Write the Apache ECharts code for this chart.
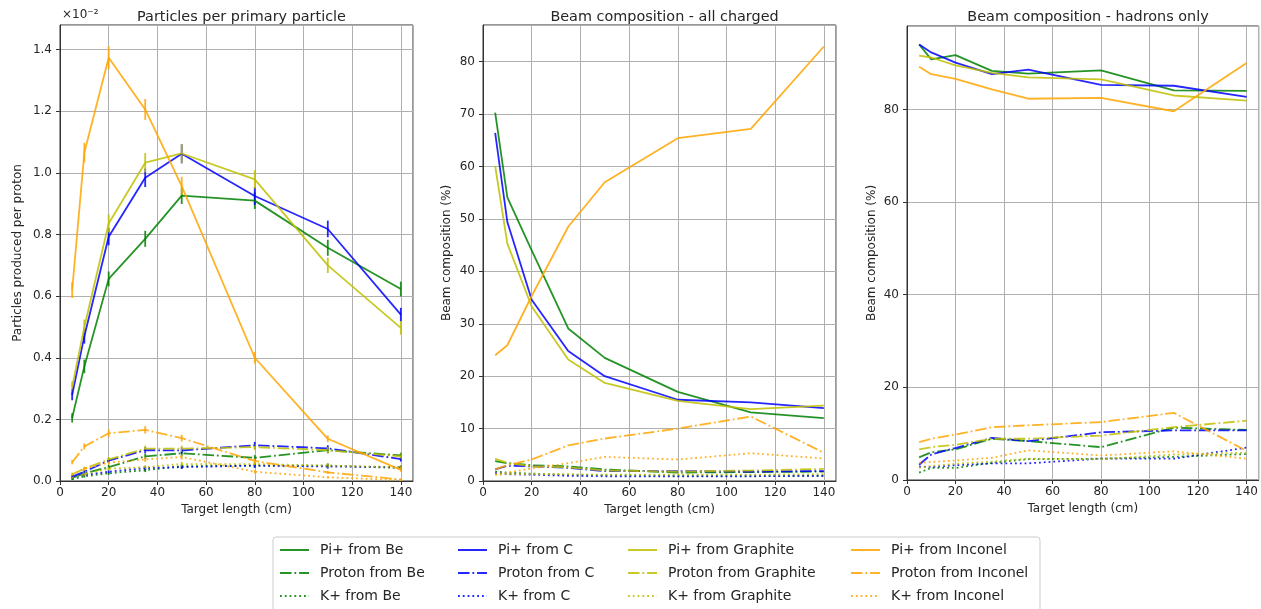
<!DOCTYPE html>
<html><head><meta charset="utf-8">
<script src="https://cdn.jsdelivr.net/npm/echarts@6/dist/echarts.min.js"></script>
<style>html,body{margin:0;padding:0;background:#fff}#c{width:1261px;height:609px}</style>
</head><body><div id="c"></div>
<script>
// Target lengths (cm)
const xs = [5, 10, 20, 35, 50, 80, 110, 140];

// Panel 1: particles per primary particle (x1e-2)
const yPiBe = [0.205, 0.372, 0.656, 0.786, 0.926, 0.910, 0.757, 0.623];
const yPrBe = [0.010, 0.025, 0.045, 0.080, 0.090, 0.075, 0.100, 0.083];
const yKBe  = [0.006, 0.015, 0.025, 0.035, 0.048, 0.050, 0.050, 0.042];
const yPiC  = [0.280, 0.470, 0.793, 0.984, 1.062, 0.925, 0.818, 0.540];
const yPrC  = [0.014, 0.030, 0.066, 0.100, 0.099, 0.116, 0.106, 0.071];
const yKC   = [0.010, 0.020, 0.030, 0.042, 0.045, 0.050, 0.047, 0.045];
const yPiGr = [0.305, 0.500, 0.836, 1.033, 1.063, 0.979, 0.700, 0.497];
const yPrGr = [0.022, 0.040, 0.070, 0.105, 0.105, 0.110, 0.100, 0.080];
const yKGr  = [0.010, 0.022, 0.040, 0.045, 0.055, 0.055, 0.050, 0.045];
const yPiIn = [0.620, 1.066, 1.374, 1.206, 0.957, 0.400, 0.137, 0.036];
const yPrIn = [0.061, 0.112, 0.155, 0.166, 0.139, 0.065, 0.028, 0.005];
const yKIn  = [0.020, 0.040, 0.060, 0.070, 0.078, 0.030, 0.012, 0.003];

// Panel 1 error bars (half-widths)
const ePiBe = [0.015, 0.022, 0.024, 0.026, 0.027, 0.027, 0.026, 0.024];
const ePrBe = [0.004, 0.006, 0.007, 0.009, 0.010, 0.009, 0.010, 0.009];
const eKBe  = [0.003, 0.004, 0.005, 0.006, 0.007, 0.007, 0.007, 0.007];
const ePiC  = [0.018, 0.024, 0.028, 0.030, 0.031, 0.029, 0.027, 0.022];
const ePrC  = [0.004, 0.006, 0.008, 0.010, 0.010, 0.011, 0.010, 0.008];
const eKC   = [0.003, 0.004, 0.005, 0.006, 0.006, 0.007, 0.007, 0.007];
const ePiGr = [0.018, 0.024, 0.029, 0.031, 0.031, 0.030, 0.025, 0.022];
const ePrGr = [0.005, 0.006, 0.008, 0.010, 0.010, 0.010, 0.010, 0.009];
const eKGr  = [0.003, 0.005, 0.006, 0.006, 0.007, 0.007, 0.007, 0.007];
const ePiIn = [0.026, 0.032, 0.037, 0.034, 0.030, 0.019, 0.011, 0.006];
const ePrIn = [0.007, 0.010, 0.012, 0.012, 0.011, 0.008, 0.005, 0.002];
const eKIn  = [0.004, 0.006, 0.007, 0.008, 0.008, 0.005, 0.003, 0.002];

// Panel 2: beam composition - all charged (%)
const cPiBe = [70.3, 54.1, 44.0, 29.1, 23.5, 17.0, 13.1, 12.0];
const cPrBe = [3.8, 3.4, 3.0, 2.8, 2.2, 1.6, 1.7, 1.8];
const cKBe  = [1.8, 1.6, 1.4, 1.2, 1.1, 1.0, 1.0, 1.0];
const cPiC  = [66.4, 49.4, 34.6, 24.8, 20.0, 15.5, 15.0, 13.9];
const cPrC  = [2.2, 2.9, 2.8, 2.5, 1.9, 1.9, 1.8, 1.9];
const cKC   = [1.5, 1.3, 1.2, 1.0, 0.9, 0.9, 0.9, 1.0];
const cPiGr = [60.1, 45.3, 33.3, 23.2, 18.7, 15.3, 13.7, 14.4];
const cPrGr = [4.2, 3.5, 2.8, 2.6, 2.0, 1.8, 2.0, 2.3];
const cKGr  = [1.2, 1.3, 1.3, 1.3, 1.2, 1.2, 1.2, 1.3];
const cPiIn = [24.0, 25.9, 35.3, 48.5, 57.0, 65.4, 67.2, 82.9];
const cPrIn = [2.2, 3.0, 4.1, 6.8, 8.1, 10.0, 12.3, 5.4];
const cKIn  = [1.2, 1.6, 2.4, 3.4, 4.6, 4.1, 5.3, 4.3];

// Panel 3: beam composition - hadrons only (%)
const hPiBe = [94.0, 90.8, 91.7, 88.3, 87.7, 88.4, 84.1, 84.0];
const hPrBe = [4.9, 6.0, 6.6, 8.9, 8.4, 7.1, 11.3, 10.8];
const hKBe  = [1.6, 2.6, 2.6, 3.7, 4.5, 4.6, 5.0, 5.6];
const hPiC  = [94.0, 92.3, 90.1, 87.6, 88.6, 85.3, 85.1, 82.7];
const hPrC  = [3.3, 5.5, 6.9, 9.1, 8.4, 10.3, 10.7, 10.7];
const hKC   = [2.9, 2.8, 3.2, 3.6, 3.6, 4.6, 4.6, 7.0];
const hPiGr = [91.6, 91.2, 89.5, 87.9, 86.9, 86.5, 83.0, 81.9];
const hPrGr = [6.6, 7.1, 7.6, 8.9, 8.9, 9.6, 11.4, 12.8];
const hKGr  = [2.6, 3.0, 3.5, 4.0, 4.6, 4.5, 5.5, 5.9];
const hPiIn = [89.2, 87.6, 86.6, 84.3, 82.3, 82.5, 79.6, 90.0];
const hPrIn = [8.2, 8.9, 9.8, 11.4, 11.8, 12.5, 14.5, 6.3];
const hKIn  = [3.7, 3.9, 4.2, 4.8, 6.4, 5.3, 6.2, 4.6];

const materials = ['Be', 'C', 'Graphite', 'Inconel'];
const particles = ['Pi+', 'Proton', 'K+'];
const titles = ['Particles per primary particle', 'Beam composition - all charged', 'Beam composition - hadrons only'];
const yNames = ['Particles produced per proton', 'Beam composition (%)', 'Beam composition (%)'];
const xName = 'Target length (cm)';

const colors = {Be: '#008000', C: '#0000ff', Graphite: '#bfbf00', Inconel: '#ffa500'};
const dashes = {'Pi+': 'solid', 'Proton': [11.5, 2.9, 1.8, 2.9], 'K+': [1.8, 3]};

const panels = [
  {Be: [yPiBe, yPrBe, yKBe], C: [yPiC, yPrC, yKC], Graphite: [yPiGr, yPrGr, yKGr], Inconel: [yPiIn, yPrIn, yKIn]},
  {Be: [cPiBe, cPrBe, cKBe], C: [cPiC, cPrC, cKC], Graphite: [cPiGr, cPrGr, cKGr], Inconel: [cPiIn, cPrIn, cKIn]},
  {Be: [hPiBe, hPrBe, hKBe], C: [hPiC, hPrC, hKC], Graphite: [hPiGr, hPrGr, hKGr], Inconel: [hPiIn, hPrIn, hKIn]}
];
const errs = {Be: [ePiBe, ePrBe, eKBe], C: [ePiC, ePrC, eKC], Graphite: [ePiGr, ePrGr, eKGr], Inconel: [ePiIn, ePrIn, eKIn]};

const FONT = 'DejaVu Sans';
const TXT = '#262626';
const ALPHA = 0.85;

const grids = [
  {left: 60, top: 25, width: 353, height: 456},
  {left: 483, top: 25, width: 353, height: 456},
  {left: 907, top: 26, width: 352, height: 454}
];
const yMax = [1.48, 87, 98];
const yInt = [0.2, 10, 20];
const yGap = [36, 30, 29];

const xAxis = grids.map((g, i) => ({
  type: 'value', gridIndex: i, min: 0, max: 145, interval: 20,
  name: xName, nameLocation: 'middle', nameGap: 22,
  nameTextStyle: {fontFamily: FONT, fontSize: 12, color: TXT},
  axisLine: {show: true, lineStyle: {color: '#333', width: 1}},
  axisTick: {show: true, length: 4, lineStyle: {color: '#333'}},
  axisLabel: {fontFamily: FONT, fontSize: 12, color: TXT, margin: 6, showMaxLabel: false},
  splitLine: {show: true, lineStyle: {color: '#b0b0b0', width: 1}}
}));
const yAxis = grids.map((g, i) => ({
  type: 'value', gridIndex: i, min: 0, max: yMax[i], interval: yInt[i],
  name: yNames[i], nameLocation: 'middle', nameGap: yGap[i],
  nameTextStyle: {fontFamily: FONT, fontSize: 12, color: TXT},
  axisLine: {show: true, lineStyle: {color: '#333', width: 1}},
  axisTick: {show: true, length: 4, lineStyle: {color: '#333'}},
  axisLabel: {fontFamily: FONT, fontSize: 12, color: TXT, margin: 8, showMaxLabel: false,
    formatter: v => i === 0 ? v.toFixed(1) : String(Math.round(v))},
  splitLine: {show: true, lineStyle: {color: '#b0b0b0', width: 1}}
}));

const series = [];
panels.forEach((panel, pi) => {
  materials.forEach(m => {
    particles.forEach((p, k) => {
      const vals = panel[m][k];
      const name = p + ' from ' + m;
      series.push({
        type: 'line', name: name, xAxisIndex: pi, yAxisIndex: pi,
        data: xs.map((x, j) => [x, vals[j]]),
        symbol: 'none', showSymbol: false, silent: true,
        lineStyle: {color: colors[m], width: 1.8, type: dashes[p], opacity: ALPHA},
        itemStyle: {color: colors[m]},
        z: 3
      });
      if (pi === 0) {
        const e = errs[m][k];
        const col = colors[m];
        series.push({
          type: 'custom', name: name + ' err', xAxisIndex: 0, yAxisIndex: 0, silent: true,
          data: xs.map((x, j) => [x, vals[j] - e[j], vals[j] + e[j]]),
          encode: {x: 0, y: [1, 2]},
          renderItem: (params, api) => {
            const a = api.coord([api.value(0), api.value(1)]);
            const b = api.coord([api.value(0), api.value(2)]);
            return {type: 'line', shape: {x1: a[0], y1: a[1], x2: b[0], y2: b[1]},
              style: {stroke: col, lineWidth: 1.8, opacity: ALPHA}};
          },
          z: 3
        });
      }
    });
  });
});

const legendCols = [279, 457, 627, 850];
const legend = materials.map((m, i) => ({
  orient: 'vertical', left: legendCols[i], top: 543, height: 120, width: 200,
  padding: 0, itemWidth: 29, itemHeight: 14, itemGap: 9, selectedMode: false,
  data: particles.map(p => p + ' from ' + m),
  itemStyle: {opacity: 0, borderWidth: 0},
  textStyle: {fontFamily: FONT, fontSize: 14, color: TXT, padding: [0, 0, 0, 6]}
}));

const option = {
  backgroundColor: '#fff',
  animation: false,
  title: titles.map((t, i) => ({
    text: t, left: grids[i].left + grids[i].width / 2, top: 5, textAlign: 'center',
    textStyle: {fontFamily: FONT, fontSize: 14.4, fontWeight: 'normal', color: TXT}
  })),
  grid: grids.map(g => Object.assign({show: true, borderColor: '#333', borderWidth: 1, backgroundColor: '#fff'}, g)),
  xAxis: xAxis,
  yAxis: yAxis,
  legend: legend,
  series: series,
  graphic: [
    {type: 'rect', shape: {x: 273, y: 537, width: 767, height: 90, r: 3}, z: -1,
      style: {fill: '#fff', stroke: '#cccccc', lineWidth: 1}},
    {type: 'text', left: 62, top: 9, style: {text: '×10⁻²', font: '12px "DejaVu Sans"', fill: TXT}}
  ]
};

const chart = echarts.init(document.getElementById('c'), null, {renderer: 'canvas'});
chart.setOption(option);
</script></body></html>
